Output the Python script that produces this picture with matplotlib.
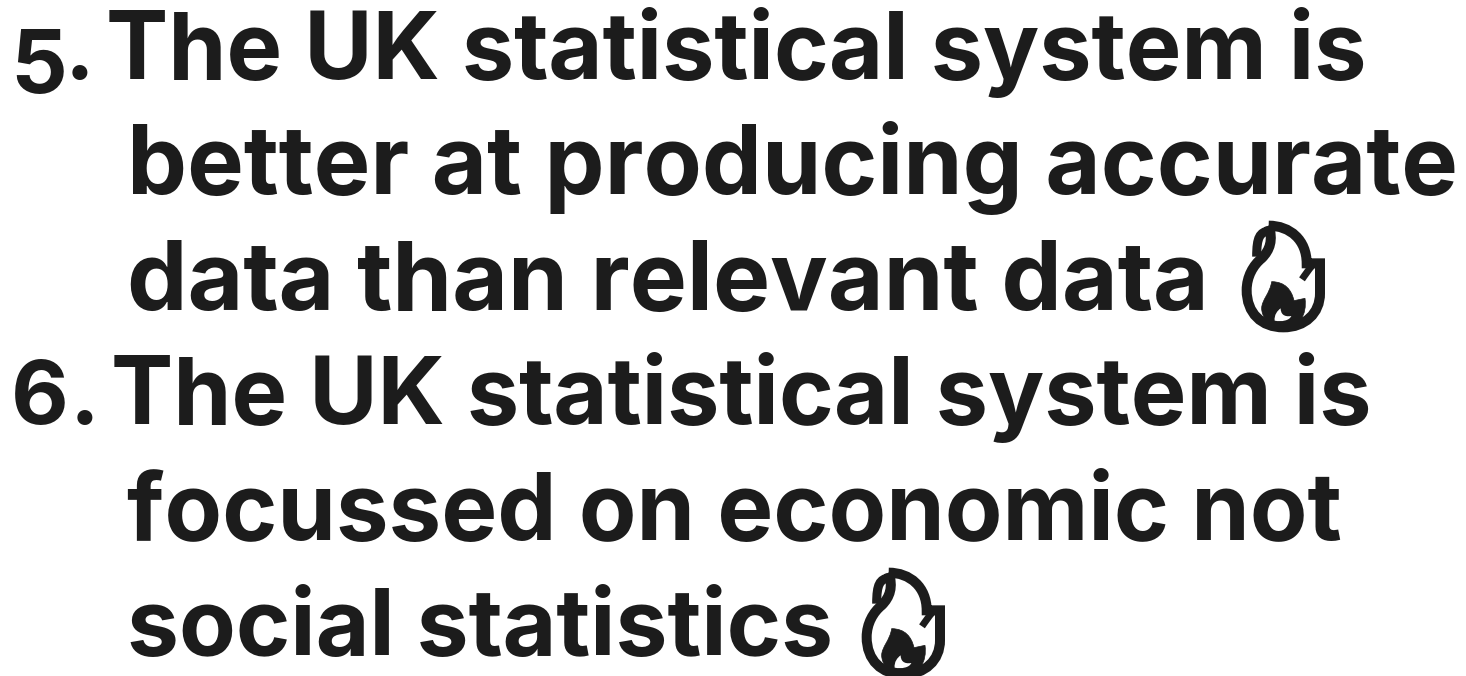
import matplotlib
matplotlib.use('Agg')
import matplotlib.pyplot as plt
from matplotlib.path import Path
from matplotlib.patches import PathPatch

W, H = 1466, 676
INK = '#1c1c1c'

# text lines: (x px, baseline y px, font size, string)
lines = [
    (106, 79, 67.3, 'The UK statistical system is'),
    (127, 194, 68.6, 'better at producing accurate'),
    (127, 310, 69.2, 'data than relevant data'),
    (111, 424, 67.3, 'The UK statistical system is'),
    (127, 540, 67.7, 'focussed on economic not'),
    (127, 655, 66.8, 'social statistics'),
]
# numbers and their dots are placed apart: (x px, baseline y px, font size, string)
numbers = [
    (10, 93, 64, '5'),   # old-style figure, hangs below the baseline
    (65, 79, 64, '.'),
    (11, 424, 64, '6'),
    (70, 424, 64, '.'),
]
# flame icons: left, top of the icon in px
flames = [(1190, 210), (810, 557)]

fig = plt.figure(figsize=(W / 100, H / 100), dpi=100)
ax = fig.add_axes([0, 0, 1, 1])
ax.set_xlim(0, W)
ax.set_ylim(H, 0)
ax.axis('off')

for x, y, size, s in lines + numbers:
    ax.text(x, y, s, fontsize=size, fontweight='bold', family='Inter', color=INK,
            va='baseline', ha='left')

M, C, L = Path.MOVETO, Path.CURVE4, Path.LINETO


def draw_flame(x0, y0):
    def to_px(pts):
        return [(x0 + a / 3, y0 + b / 3) for a, b in pts]

    # body outline, coordinates in a 3x icon grid
    body = [(236, 47), (300, 47), (350, 90), (350, 160), (390, 160), (390, 250),
            (390, 310), (345, 352), (280, 352), (215, 352), (170, 310), (170, 240),
            (170, 200), (190, 165), (215, 145), (240, 120), (250, 90), (236, 47)]
    codes = [M, C, C, C, L, L, C, C, C, C, C, C, C, C, C, C, C, C]
    ax.add_patch(PathPatch(Path(to_px(body), codes), fc='none', ec=INK, lw=7.2, joinstyle='miter'))

    # small lick on the left shoulder
    lick = [(236, 62), (210, 68), (200, 80), (200, 140)]
    ax.add_patch(PathPatch(Path(to_px(lick), [M, C, C, C]), fc='none', ec=INK, lw=6.5))

    # notch on the right side
    notch = [(368, 165), (355, 180), (345, 195), (336, 208)]
    ax.add_patch(PathPatch(Path(to_px(notch), [M, C, C, C]), fc='none', ec=INK, lw=5))

    # inner flame with the white hole cut out
    inner = [(245, 215), (285, 215), (305, 240), (312, 272), (345, 265),
             (348, 290), (345, 310), (330, 335), (315, 350), (290, 352), (260, 352),
             (235, 345), (215, 320), (215, 295), (215, 270), (240, 250), (245, 215)]
    codes = [M, C, C, C, L, C, C, C, C, C, C, C, C, C, C, C, C]
    ax.add_patch(PathPatch(Path(to_px(inner), codes), fc=INK, ec=INK, lw=0.5))
    hole = [(254, 332), (252, 315), (262, 302), (272, 295), (272, 310), (280, 322), (304, 318),
            (298, 332), (275, 336), (254, 332)]
    codes = [M, C, C, C, C, C, C, C, C, C]
    ax.add_patch(PathPatch(Path(to_px(hole), codes), fc='white', ec='none'))


for x0, y0 in flames:
    draw_flame(x0, y0)

fig.savefig('out.png', dpi=100, facecolor='white')
